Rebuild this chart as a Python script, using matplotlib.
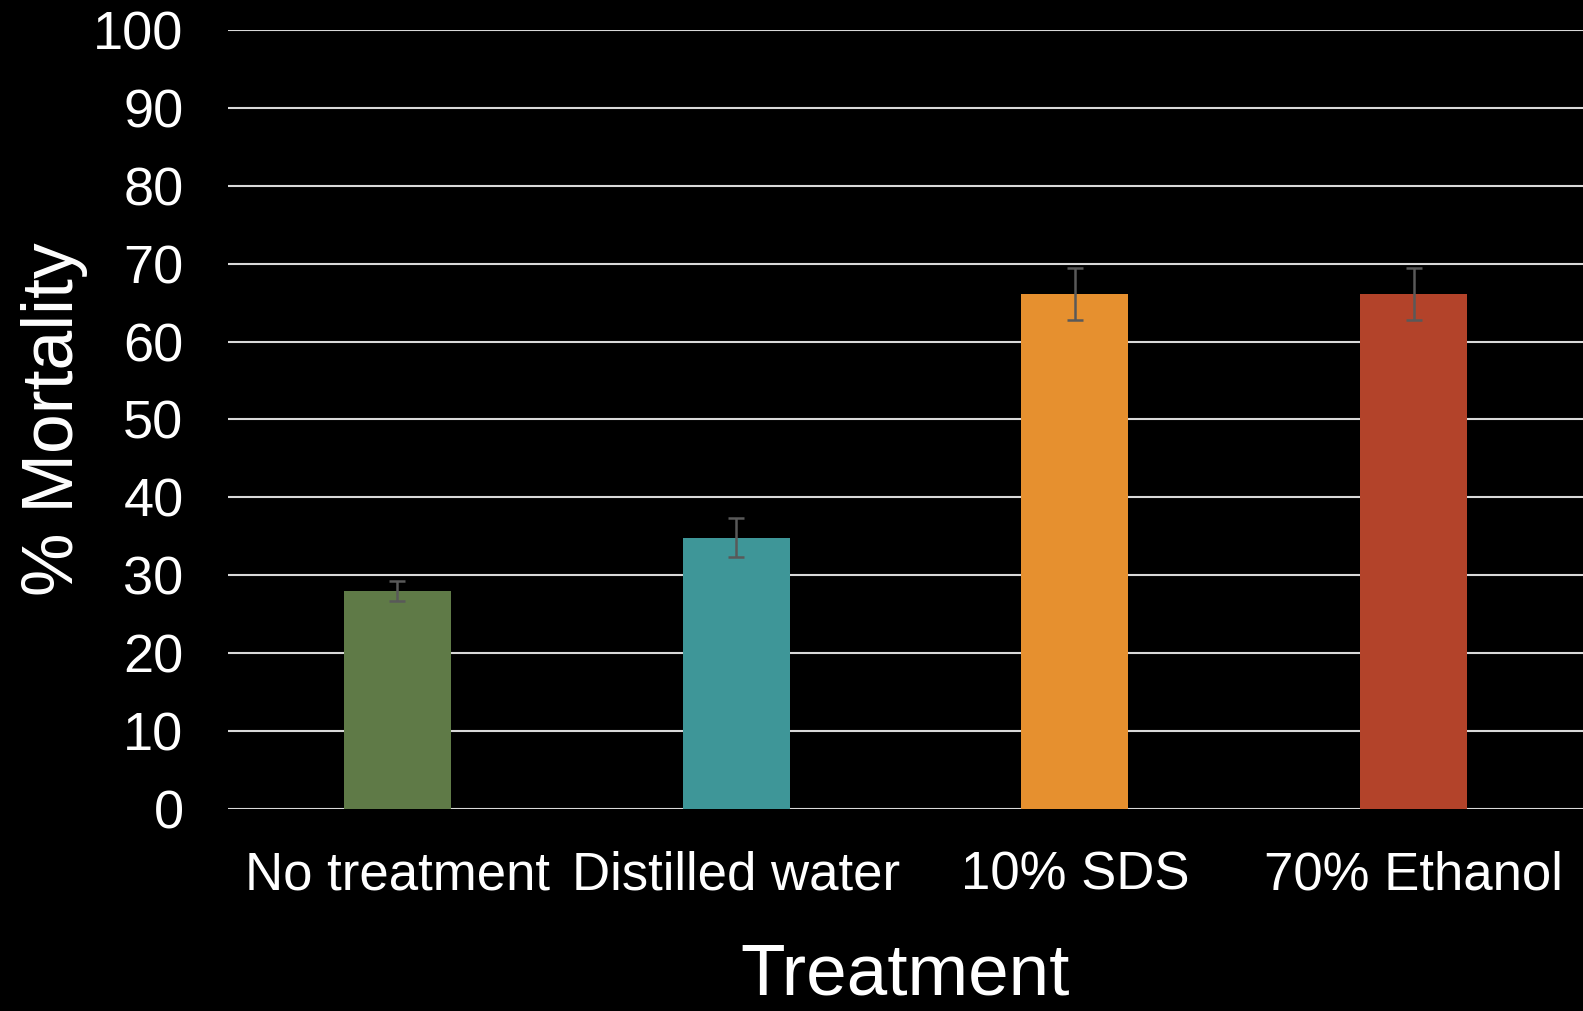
import matplotlib
matplotlib.use("Agg")
import matplotlib.pyplot as plt

treatments = ["No treatment", "Distilled water", "10% SDS", "70% Ethanol"]
mortality = [28.0, 34.8, 66.1, 66.1]
errors = [1.3, 2.5, 3.3, 3.3]
colors = ["#5F7A47", "#3E9698", "#E6902F", "#B3432A"]

plt.rcParams['font.family'] = ['Liberation Sans', 'DejaVu Sans']

fig = plt.figure(figsize=(15.83, 10.11), dpi=100, facecolor='black')
ax = fig.add_axes([0.144, 0.1998, 0.856, 0.7706])
ax.set_facecolor('black')

x = range(len(treatments))
ax.bar(x, mortality, width=0.316, color=colors, zorder=3,
       yerr=errors, error_kw=dict(ecolor='#595959', elinewidth=1.8, capsize=6, capthick=1.8, zorder=4))

ax.set_xlim(-0.5, 3.5)
ax.set_ylim(0, 100)
ax.set_yticks(range(0, 101, 10))
ax.yaxis.grid(True, color='#D9D9D9', linewidth=1.5, zorder=0)
ax.set_axisbelow(True)
for s in ax.spines.values():
    s.set_visible(False)
ax.set_xticks(list(x))
ax.set_xticklabels(treatments)
ax.tick_params(axis='both', length=0, colors='white')
ax.tick_params(axis='y', pad=32, labelsize=39)
ax.tick_params(axis='x', pad=30, labelsize=38)

ax.set_xlabel("Treatment", color='white', fontsize=52.5, labelpad=30)
ax.set_ylabel("% Mortality", color='white', fontsize=51.5, labelpad=4)

fig.savefig("out.png", dpi=100, facecolor='black')
